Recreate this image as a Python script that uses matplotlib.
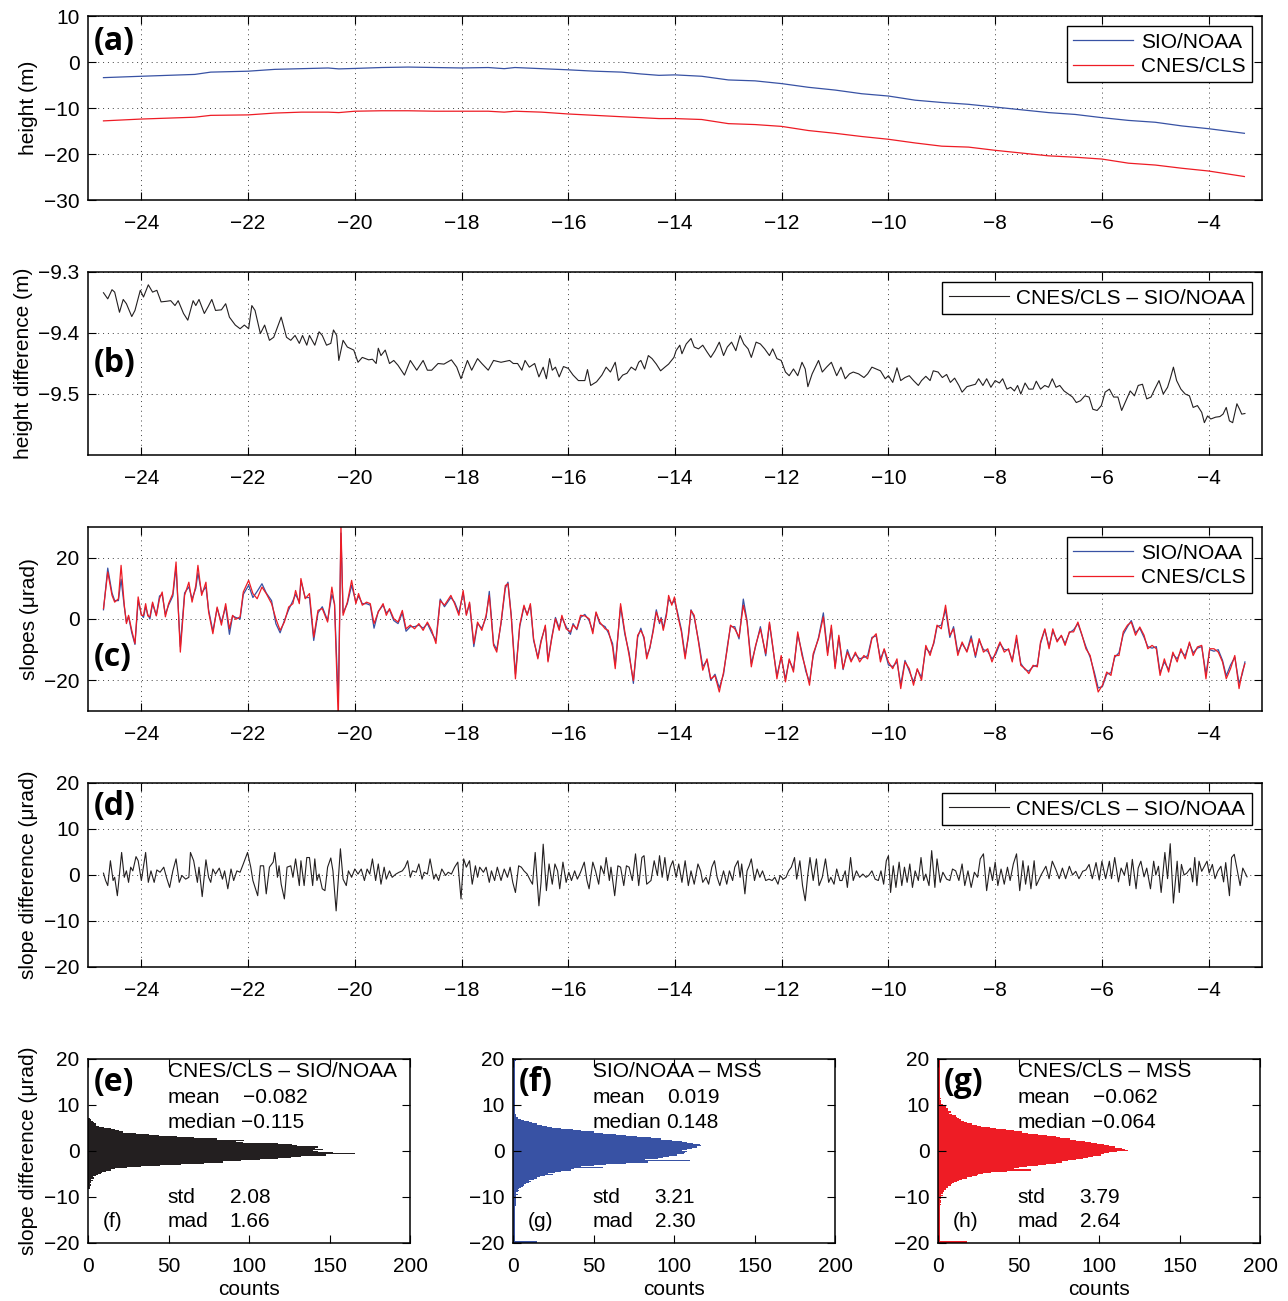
import numpy as np
import matplotlib.pyplot as plt

plt.rcParams['font.family'] = ['Liberation Sans', 'DejaVu Sans']

#~~~~~~~~~~~~~~~~~~~~~~~~~~~~~~~~ Data ~~~~~~~~~~~~~~~~~~~~~~~~~~~~~~~~#

# (a) along-track heights (m)
a_x = [-24.71, -24.0, -23.5, -23.0, -22.7, -22.0, -21.5, -21.0, -20.5, -20.3,
       -20.0, -19.5, -19.0, -18.5, -18.0, -17.5, -17.2, -17.0, -16.5, -16.0,
       -15.5, -15.0, -14.64, -14.3, -14.0, -13.5, -13.0, -12.5, -12.0, -11.5,
       -11.0, -10.5, -10.0, -9.5, -9.0, -8.5, -8.0, -7.5, -7.0, -6.5,
       -6.0, -5.5, -5.0, -4.5, -4.0, -3.33]
a_sio = [-3.4, -3.1, -2.9, -2.7, -2.2, -2.0, -1.6, -1.45, -1.3, -1.5,
         -1.4, -1.2, -1.1, -1.2, -1.3, -1.2, -1.45, -1.2, -1.45, -1.7,
         -2.0, -2.2, -2.6, -2.9, -2.8, -3.1, -3.9, -4.1, -4.7, -5.5,
         -6.1, -6.9, -7.4, -8.3, -8.8, -9.2, -9.8, -10.4, -11.0, -11.4,
         -12.1, -12.7, -13.1, -13.9, -14.5, -15.5]
a_cnes = [-12.8, -12.4, -12.2, -12.0, -11.6, -11.5, -11.1, -10.9, -10.9, -11.0,
          -10.7, -10.6, -10.6, -10.7, -10.7, -10.7, -10.9, -10.7, -10.9, -11.3,
          -11.6, -11.9, -12.1, -12.3, -12.3, -12.5, -13.4, -13.6, -14.0, -14.9,
          -15.5, -16.2, -16.8, -17.6, -18.3, -18.5, -19.2, -19.8, -20.4, -20.7,
          -21.1, -22.0, -22.4, -23.1, -23.7, -24.9]

# (b) height difference CNES/CLS - SIO/NOAA (m): (x, dh)
b_pts = [
    (-24.71, -9.334), (-24.63, -9.344), (-24.55, -9.329), (-24.50, -9.333), (-24.41, -9.366),
    (-24.34, -9.345), (-24.28, -9.352), (-24.18, -9.373), (-24.12, -9.363), (-24.02, -9.330),
    (-23.96, -9.341), (-23.87, -9.321), (-23.79, -9.333), (-23.71, -9.330), (-23.63, -9.349),
    (-23.53, -9.348), (-23.45, -9.347), (-23.37, -9.355), (-23.31, -9.347), (-23.21, -9.368),
    (-23.13, -9.379), (-23.03, -9.347), (-22.98, -9.355), (-22.92, -9.345), (-22.82, -9.368),
    (-22.75, -9.357), (-22.68, -9.345), (-22.61, -9.363), (-22.50, -9.362), (-22.42, -9.352),
    (-22.35, -9.374), (-22.24, -9.387), (-22.15, -9.393), (-22.07, -9.387), (-21.99, -9.393),
    (-21.93, -9.355), (-21.87, -9.363), (-21.77, -9.401), (-21.69, -9.387), (-21.60, -9.412),
    (-21.52, -9.407), (-21.38, -9.374), (-21.28, -9.407), (-21.20, -9.412), (-21.12, -9.404),
    (-21.04, -9.417), (-20.98, -9.404), (-20.90, -9.420), (-20.85, -9.404), (-20.75, -9.420),
    (-20.67, -9.398), (-20.61, -9.404), (-20.53, -9.420), (-20.45, -9.417), (-20.40, -9.395),
    (-20.34, -9.404), (-20.30, -9.445), (-20.22, -9.412), (-20.14, -9.423), (-20.02, -9.428),
    (-19.94, -9.448), (-19.86, -9.440), (-19.74, -9.444), (-19.67, -9.443), (-19.60, -9.450),
    (-19.56, -9.425), (-19.51, -9.437), (-19.43, -9.428), (-19.35, -9.450), (-19.27, -9.445),
    (-19.19, -9.453), (-19.07, -9.469), (-18.96, -9.445), (-18.84, -9.461), (-18.72, -9.445),
    (-18.64, -9.461), (-18.56, -9.461), (-18.44, -9.450), (-18.33, -9.451), (-18.19, -9.444),
    (-18.09, -9.456), (-18.01, -9.475), (-17.89, -9.445), (-17.81, -9.461), (-17.70, -9.442),
    (-17.62, -9.450), (-17.50, -9.461), (-17.40, -9.445), (-17.26, -9.448), (-17.10, -9.445),
    (-17.03, -9.450), (-16.95, -9.450), (-16.87, -9.461), (-16.81, -9.445), (-16.73, -9.456),
    (-16.63, -9.450), (-16.55, -9.472), (-16.47, -9.456), (-16.41, -9.475), (-16.35, -9.442),
    (-16.30, -9.461), (-16.24, -9.456), (-16.17, -9.472), (-16.09, -9.455), (-16.00, -9.458),
    (-15.91, -9.469), (-15.81, -9.478), (-15.69, -9.478), (-15.64, -9.460), (-15.58, -9.486),
    (-15.47, -9.480), (-15.37, -9.469), (-15.29, -9.456), (-15.21, -9.464), (-15.12, -9.448),
    (-15.06, -9.478), (-14.98, -9.469), (-14.90, -9.466), (-14.82, -9.456), (-14.74, -9.461),
    (-14.68, -9.448), (-14.64, -9.445), (-14.57, -9.459), (-14.50, -9.437), (-14.43, -9.442),
    (-14.35, -9.451), (-14.27, -9.462), (-14.19, -9.456), (-14.12, -9.451), (-14.02, -9.440),
    (-13.98, -9.429), (-13.91, -9.420), (-13.87, -9.434), (-13.79, -9.418), (-13.70, -9.409),
    (-13.64, -9.423), (-13.56, -9.426), (-13.48, -9.420), (-13.40, -9.431), (-13.33, -9.440),
    (-13.25, -9.429), (-13.17, -9.415), (-13.09, -9.437), (-13.02, -9.423), (-12.94, -9.415),
    (-12.86, -9.429), (-12.78, -9.404), (-12.71, -9.418), (-12.63, -9.426), (-12.57, -9.440),
    (-12.48, -9.415), (-12.40, -9.418), (-12.32, -9.426), (-12.23, -9.437), (-12.17, -9.426),
    (-12.09, -9.442), (-12.01, -9.445), (-11.93, -9.464), (-11.86, -9.470), (-11.78, -9.459),
    (-11.70, -9.470), (-11.62, -9.448), (-11.56, -9.459), (-11.51, -9.488), (-11.43, -9.467),
    (-11.31, -9.445), (-11.24, -9.464), (-11.16, -9.456), (-11.07, -9.448), (-10.97, -9.470),
    (-10.89, -9.456), (-10.81, -9.475), (-10.73, -9.467), (-10.66, -9.464), (-10.56, -9.467),
    (-10.46, -9.473), (-10.39, -9.467), (-10.31, -9.456), (-10.23, -9.459), (-10.15, -9.462),
    (-10.06, -9.475), (-10.00, -9.470), (-9.92, -9.481), (-9.84, -9.457), (-9.77, -9.478),
    (-9.69, -9.473), (-9.61, -9.470), (-9.53, -9.478), (-9.44, -9.486), (-9.38, -9.478),
    (-9.30, -9.471), (-9.22, -9.478), (-9.16, -9.462), (-9.07, -9.464), (-8.99, -9.473),
    (-8.91, -9.468), (-8.84, -9.481), (-8.76, -9.474), (-8.68, -9.486), (-8.62, -9.497),
    (-8.53, -9.488), (-8.45, -9.486), (-8.37, -9.484), (-8.31, -9.475), (-8.23, -9.486),
    (-8.16, -9.475), (-8.08, -9.489), (-8.00, -9.478), (-7.92, -9.482), (-7.86, -9.475),
    (-7.78, -9.492), (-7.71, -9.489), (-7.64, -9.495), (-7.58, -9.486), (-7.52, -9.500),
    (-7.44, -9.482), (-7.37, -9.492), (-7.29, -9.492), (-7.23, -9.479), (-7.15, -9.492),
    (-7.07, -9.486), (-7.00, -9.489), (-6.93, -9.475), (-6.86, -9.489), (-6.79, -9.486),
    (-6.71, -9.495), (-6.63, -9.500), (-6.55, -9.505), (-6.48, -9.514), (-6.40, -9.511),
    (-6.32, -9.503), (-6.24, -9.505), (-6.17, -9.525), (-6.09, -9.527), (-6.01, -9.519),
    (-5.94, -9.497), (-5.86, -9.492), (-5.78, -9.505), (-5.70, -9.505), (-5.63, -9.527),
    (-5.55, -9.511), (-5.47, -9.495), (-5.39, -9.503), (-5.32, -9.486), (-5.24, -9.484),
    (-5.16, -9.508), (-5.08, -9.505), (-5.01, -9.492), (-4.93, -9.478), (-4.85, -9.500),
    (-4.77, -9.489), (-4.72, -9.475), (-4.66, -9.456), (-4.60, -9.478), (-4.52, -9.492),
    (-4.44, -9.500), (-4.36, -9.503), (-4.29, -9.522), (-4.21, -9.519), (-4.13, -9.530),
    (-4.08, -9.547), (-4.02, -9.536), (-3.96, -9.541), (-3.87, -9.538), (-3.79, -9.537),
    (-3.73, -9.533), (-3.67, -9.522), (-3.61, -9.544), (-3.55, -9.547), (-3.47, -9.516),
    (-3.42, -9.525), (-3.38, -9.533), (-3.32, -9.532),
]

# (c) along-track slopes (urad): (x, SIO/NOAA, CNES/CLS)
c_pts = [
    (-24.71, 3.0, 3.4), (-24.63, 16.6, 15.3), (-24.55, 8.5, 7.7), (-24.50, 6.0, 5.5), (-24.43, 6.0, 6.6),
    (-24.38, 13.0, 17.5), (-24.32, 4.0, 4.5), (-24.28, -1.0, -1.5), (-24.24, 0.8, 1.2), (-24.18, -4.5, -3.7),
    (-24.12, -8.3, -8.0), (-24.06, 6.0, 7.2), (-24.00, 1.5, 1.2), (-23.96, 0.5, 1.2), (-23.92, 4.0, 5.0),
    (-23.88, 1.5, 1.0), (-23.84, 0.0, 0.7), (-23.79, 5.0, 5.5), (-23.72, 1.2, 1.0), (-23.66, 7.5, 6.6),
    (-23.61, 8.0, 8.8), (-23.55, 1.5, 0.7), (-23.49, 4.5, 5.0), (-23.41, 7.5, 8.3), (-23.35, 17.0, 18.6),
    (-23.27, -9.0, -10.8), (-23.19, 8.5, 7.7), (-23.11, 10.5, 12.0), (-23.05, 6.5, 5.5), (-22.98, 10.0, 10.9),
    (-22.94, 15.0, 17.5), (-22.87, 8.5, 7.7), (-22.79, 10.5, 12.0), (-22.74, 3.0, 2.3), (-22.66, -4.0, -4.8),
    (-22.58, 3.5, 3.9), (-22.50, -1.0, -2.0), (-22.42, 4.0, 5.0), (-22.35, -5.0, -3.2), (-22.29, 1.0, 1.2),
    (-22.23, 0.5, -0.1), (-22.15, 0.0, 0.7), (-22.09, 8.0, 8.8), (-21.99, 11.0, 12.6), (-21.91, 7.0, 8.3),
    (-21.83, 9.0, 6.6), (-21.74, 11.5, 10.4), (-21.66, 8.5, 8.3), (-21.56, 6.0, 5.0), (-21.48, -1.5, 0.1),
    (-21.40, -4.5, -3.7), (-21.32, -0.5, -1.0), (-21.24, 3.0, 3.9), (-21.16, 6.0, 5.0), (-21.11, 8.0, 9.3),
    (-21.04, 5.5, 5.0), (-21.01, 12.5, 13.2), (-20.93, 7.0, 6.6), (-20.85, 7.0, 8.3), (-20.77, -7.0, -5.9),
    (-20.69, 2.0, 2.8), (-20.61, 4.0, 3.4), (-20.51, -0.5, -1.0), (-20.43, 8.0, 10.4), (-20.38, 5.0, 4.5),
    (-20.31, -27.0, -33.0), (-20.26, 28.0, 31.0), (-20.22, 2.0, 1.2), (-20.14, 5.0, 5.5), (-20.06, 11.0, 12.6),
    (-19.98, 5.5, 5.0), (-19.93, 7.5, 8.3), (-19.86, 5.0, 4.5), (-19.78, 5.0, 5.5), (-19.71, 4.5, 5.0),
    (-19.64, -3.0, -1.5), (-19.56, 2.5, 2.3), (-19.47, 4.5, 5.0), (-19.41, 2.0, 1.2), (-19.35, 3.0, 3.4),
    (-19.27, -0.5, 0.1), (-19.19, -1.5, -1.0), (-19.11, 2.0, 2.8), (-19.04, -4.0, -3.2), (-18.96, -2.5, -2.0),
    (-18.88, -2.5, -3.2), (-18.80, -2.0, -1.5), (-18.72, -3.0, -3.7), (-18.64, -1.5, -1.0), (-18.56, -4.5, -3.7),
    (-18.48, -7.0, -8.0), (-18.40, 6.5, 6.0), (-18.32, 4.0, 4.5), (-18.20, 7.0, 7.7), (-18.13, 5.5, 5.0),
    (-18.05, 2.0, 1.2), (-17.97, 8.5, 9.3), (-17.91, 1.5, 1.2), (-17.85, 5.0, 5.5), (-17.77, -9.0, -8.0),
    (-17.70, -1.5, -1.0), (-17.62, -3.0, -3.7), (-17.54, 0.5, 1.2), (-17.48, 9.0, 7.7), (-17.40, -8.0, -8.6),
    (-17.34, -10.0, -10.8), (-17.26, -1.5, -1.0), (-17.18, 10.0, 10.9), (-17.13, 12.0, 11.5), (-17.07, 1.5, 1.0),
    (-16.99, -18.0, -19.5), (-16.91, -2.5, -2.0), (-16.83, 4.0, 4.5), (-16.77, 1.5, 1.2), (-16.71, 4.5, 5.0),
    (-16.65, -7.0, -6.4), (-16.57, -12.5, -13.0), (-16.51, -7.0, -7.5), (-16.43, -2.5, -2.0), (-16.38, -13.5, -14.0),
    (-16.31, -6.0, -6.4), (-16.24, 0.5, 0.1), (-16.17, -3.0, -3.7), (-16.12, 0.5, 1.2), (-16.04, -2.5, -3.2),
    (-15.96, -5.0, -4.2), (-15.91, -1.5, -2.0), (-15.84, -3.5, -3.2), (-15.77, 0.5, 1.2), (-15.69, 1.5, 1.0),
    (-15.61, -0.5, 0.1), (-15.54, -4.0, -4.8), (-15.48, 2.0, 2.3), (-15.41, -1.5, -1.0), (-15.31, -2.5, -3.2),
    (-15.25, -4.5, -3.7), (-15.17, -8.0, -9.1), (-15.12, -15.0, -16.2), (-15.02, 4.0, 5.0), (-14.94, -5.0, -4.2),
    (-14.86, -11.0, -11.9), (-14.78, -21.0, -20.1), (-14.70, -6.0, -5.3), (-14.64, -3.0, -3.7), (-14.58, -6.5, -5.9),
    (-14.53, -12.0, -13.0), (-14.47, -9.5, -9.1), (-14.41, -3.5, -4.2), (-14.35, 3.0, 2.3), (-14.29, -1.5, -1.0),
    (-14.26, 0.5, 0.1), (-14.22, -3.0, -3.7), (-14.16, 2.0, 1.2), (-14.12, 6.5, 7.7), (-14.06, 5.0, 4.5),
    (-14.01, 6.0, 7.2), (-13.95, 2.0, 1.2), (-13.88, -3.5, -4.2), (-13.81, -12.0, -13.0), (-13.75, -6.0, -5.3),
    (-13.70, 3.0, 2.8), (-13.64, 0.5, 1.2), (-13.56, -7.0, -7.5), (-13.48, -15.5, -16.7), (-13.40, -13.5, -13.0),
    (-13.33, -20.0, -19.5), (-13.25, -18.0, -18.5), (-13.17, -22.5, -23.8), (-13.09, -18.0, -17.3), (-13.02, -9.0, -9.7),
    (-12.96, -2.5, -2.0), (-12.88, -2.5, -3.2), (-12.80, -6.5, -5.9), (-12.72, 6.5, 4.5), (-12.65, -0.5, -1.0),
    (-12.57, -14.5, -15.6), (-12.49, -9.0, -8.6), (-12.40, -2.5, -3.2), (-12.30, -12.0, -11.3), (-12.23, -1.5, -1.0),
    (-12.17, -9.0, -8.6), (-12.09, -18.5, -19.5), (-12.01, -12.5, -11.9), (-11.93, -19.5, -20.5), (-11.86, -13.5, -13.0),
    (-11.78, -16.5, -17.3), (-11.70, -5.0, -4.2), (-11.62, -11.0, -11.9), (-11.55, -17.0, -16.2), (-11.48, -20.5, -21.6),
    (-11.41, -12.0, -11.3), (-11.31, -6.0, -6.4), (-11.22, 2.0, 0.7), (-11.14, -11.0, -11.9), (-11.07, -3.0, -2.0),
    (-11.00, -15.5, -16.2), (-10.93, -6.0, -5.3), (-10.85, -16.5, -16.2), (-10.77, -10.0, -10.8), (-10.70, -13.5, -14.0),
    (-10.62, -11.5, -10.8), (-10.54, -13.0, -14.0), (-10.46, -12.5, -11.9), (-10.39, -12.0, -13.0), (-10.31, -6.0, -6.4),
    (-10.23, -5.5, -4.8), (-10.15, -13.0, -14.0), (-10.08, -10.0, -9.7), (-10.00, -15.0, -14.0), (-9.92, -15.5, -16.2),
    (-9.84, -14.0, -13.0), (-9.77, -21.5, -22.7), (-9.69, -13.5, -14.0), (-9.61, -17.0, -16.2), (-9.53, -20.5, -21.6),
    (-9.46, -16.5, -16.2), (-9.38, -19.0, -20.0), (-9.30, -9.5, -8.6), (-9.22, -11.0, -11.9), (-9.15, -8.0, -7.5),
    (-9.09, -2.5, -2.0), (-9.01, -2.0, -3.2), (-8.93, 3.0, 4.5), (-8.85, -6.0, -5.3), (-8.78, -2.5, -3.2),
    (-8.70, -11.0, -11.9), (-8.62, -8.0, -7.5), (-8.53, -10.5, -10.8), (-8.45, -5.5, -6.4), (-8.37, -12.5, -11.9),
    (-8.30, -7.0, -6.4), (-8.22, -10.0, -10.8), (-8.14, -10.5, -9.7), (-8.06, -13.0, -14.0), (-7.99, -11.5, -10.8),
    (-7.91, -8.0, -7.5), (-7.83, -10.0, -10.8), (-7.75, -10.0, -9.7), (-7.68, -13.5, -14.0), (-7.60, -6.5, -5.3),
    (-7.52, -14.5, -15.1), (-7.44, -16.5, -16.2), (-7.37, -17.0, -17.8), (-7.29, -15.5, -15.1), (-7.21, -15.0, -15.6),
    (-7.15, -8.0, -7.5), (-7.07, -3.5, -3.2), (-6.99, -9.0, -9.7), (-6.92, -4.0, -3.2), (-6.84, -7.0, -7.5),
    (-6.76, -5.5, -5.3), (-6.69, -8.0, -8.6), (-6.61, -4.5, -4.2), (-6.53, -3.5, -4.2), (-6.45, -1.5, -1.0),
    (-6.38, -5.0, -4.8), (-6.30, -9.0, -9.7), (-6.22, -12.5, -11.9), (-6.14, -17.5, -18.4), (-6.07, -22.5, -23.8),
    (-5.99, -22.0, -21.6), (-5.91, -18.0, -17.3), (-5.83, -17.5, -18.4), (-5.76, -12.5, -11.9), (-5.68, -11.0, -11.9),
    (-5.60, -5.0, -4.2), (-5.52, -2.5, -2.0), (-5.45, -0.5, -1.0), (-5.37, -4.5, -5.3), (-5.29, -3.0, -2.6),
    (-5.21, -6.0, -5.3), (-5.14, -9.0, -9.7), (-5.06, -9.5, -8.6), (-4.98, -9.0, -9.7), (-4.91, -17.5, -18.4),
    (-4.83, -14.0, -13.0), (-4.75, -16.5, -17.3), (-4.67, -11.5, -10.8), (-4.59, -13.0, -14.0), (-4.52, -10.5, -9.7),
    (-4.44, -12.0, -13.0), (-4.36, -8.0, -7.5), (-4.29, -11.0, -11.9), (-4.21, -9.5, -9.1), (-4.13, -9.0, -8.6),
    (-4.05, -18.0, -19.5), (-3.98, -10.0, -9.7), (-3.90, -10.5, -9.7), (-3.82, -10.0, -10.8), (-3.74, -13.5, -14.0),
    (-3.67, -18.5, -19.5), (-3.59, -15.0, -16.2), (-3.51, -12.5, -11.9), (-3.43, -21.0, -22.7), (-3.37, -18.0, -17.3),
    (-3.32, -14.0, -14.6),
]

# (d) slope difference CNES/CLS - SIO/NOAA (urad): (x, ds)
d_pts = [
    (-24.71, 0.4), (-24.67, -1.2), (-24.63, -2.3), (-24.58, 3.1), (-24.53, -1.2), (-24.50, -0.5), (-24.45, -4.5),
    (-24.37, 4.9), (-24.32, -0.5), (-24.28, 0.9), (-24.24, -1.6), (-24.20, 1.7), (-24.16, 0.9), (-24.10, 4.0),
    (-24.06, 3.1), (-24.00, -1.2), (-23.92, 4.9), (-23.87, -1.6), (-23.82, 0.9), (-23.76, -1.6), (-23.71, 1.1),
    (-23.65, 0.6), (-23.58, 1.7), (-23.53, -0.5), (-23.47, -2.7), (-23.41, 0.9), (-23.35, 3.5), (-23.29, -1.6),
    (-23.24, -0.1), (-23.17, -0.9), (-23.11, -0.5), (-23.08, 4.9), (-23.02, 3.1), (-22.95, -1.6), (-22.92, 1.7),
    (-22.86, -4.7), (-22.79, 3.3), (-22.74, -0.5), (-22.70, -1.6), (-22.66, 1.3), (-22.61, 0.2), (-22.54, 1.5),
    (-22.48, -0.9), (-22.44, 0.9), (-22.38, -3.0), (-22.32, 1.3), (-22.27, -1.2), (-22.21, 0.9), (-22.15, 0.6),
    (-22.09, 2.4), (-22.01, 4.9), (-21.95, 1.7), (-21.91, -1.2), (-21.87, -2.7), (-21.82, -4.5), (-21.77, 2.0),
    (-21.71, 2.0), (-21.66, -4.1), (-21.60, 1.7), (-21.53, 2.8), (-21.50, 4.9), (-21.45, -0.5), (-21.42, 2.0),
    (-21.38, -2.0), (-21.32, -5.2), (-21.27, 1.7), (-21.20, 2.0), (-21.16, -0.5), (-21.11, 3.5), (-21.04, -2.3),
    (-21.01, 3.1), (-20.95, -2.3), (-20.90, 3.8), (-20.85, 3.8), (-20.79, -2.3), (-20.75, 3.5), (-20.71, -1.2),
    (-20.67, 0.2), (-20.61, -3.0), (-20.56, -3.4), (-20.51, 1.7), (-20.45, 3.7), (-20.41, 0.9), (-20.35, -7.8),
    (-20.27, 5.7), (-20.22, -0.9), (-20.16, -2.3), (-20.12, 0.9), (-20.06, -0.5), (-20.00, 1.3), (-19.94, 0.2),
    (-19.88, 1.3), (-19.82, -1.2), (-19.77, 1.3), (-19.72, 0.2), (-19.67, 3.5), (-19.61, -1.2), (-19.56, 2.4),
    (-19.51, -2.0), (-19.45, 1.7), (-19.41, -0.9), (-19.35, 0.9), (-19.30, -0.5), (-19.23, 0.2), (-19.17, 0.6),
    (-19.11, 0.9), (-19.06, 1.7), (-19.01, 3.1), (-18.96, -0.5), (-18.92, 0.9), (-18.85, 0.6), (-18.80, 2.4),
    (-18.74, -0.9), (-18.70, 0.6), (-18.64, 0.2), (-18.59, 3.5), (-18.52, -0.9), (-18.48, 0.2), (-18.43, -1.2),
    (-18.37, 1.3), (-18.30, -0.1), (-18.25, 0.6), (-18.19, 0.2), (-18.13, 1.7), (-18.07, 2.8), (-18.01, -5.2),
    (-17.96, 3.5), (-17.91, 1.7), (-17.85, 3.1), (-17.80, -2.0), (-17.74, 2.0), (-17.70, -0.5), (-17.66, 1.7),
    (-17.59, 0.6), (-17.54, 1.7), (-17.48, -1.6), (-17.44, 0.9), (-17.38, -1.2), (-17.33, 1.7), (-17.26, -1.2),
    (-17.20, 1.3), (-17.14, -0.5), (-17.09, 1.7), (-17.04, -1.6), (-16.99, -3.8), (-16.93, 2.0), (-16.88, 1.7),
    (-16.83, 0.9), (-16.77, 0.2), (-16.71, -1.2), (-16.67, -2.0), (-16.62, 4.9), (-16.55, -6.7), (-16.51, -1.6),
    (-16.47, 6.7), (-16.41, -3.4), (-16.36, 2.4), (-16.30, -2.0), (-16.25, 2.4), (-16.20, 0.9), (-16.16, -3.0),
    (-16.10, 2.8), (-16.04, -1.6), (-15.99, 0.6), (-15.94, -1.2), (-15.88, 0.9), (-15.83, -0.9), (-15.77, 0.6),
    (-15.70, 2.8), (-15.65, -1.2), (-15.61, -3.0), (-15.54, 2.8), (-15.49, 0.9), (-15.43, -2.0), (-15.39, 2.0),
    (-15.33, 0.2), (-15.29, 3.8), (-15.23, -1.2), (-15.20, 1.7), (-15.13, -4.5), (-15.07, 2.0), (-15.02, 1.7),
    (-14.96, -2.3), (-14.91, 2.0), (-14.86, 1.7), (-14.80, -1.2), (-14.74, 4.6), (-14.68, -2.3), (-14.62, 3.8),
    (-14.58, 4.2), (-14.53, -2.0), (-14.45, -1.2), (-14.39, 3.1), (-14.33, -0.1), (-14.29, 4.2), (-14.24, -0.5),
    (-14.19, 3.8), (-14.14, -1.2), (-14.09, 1.7), (-14.04, 3.1), (-13.98, -0.5), (-13.93, 2.4), (-13.87, -1.6),
    (-13.81, 3.1), (-13.75, -2.3), (-13.70, 0.9), (-13.64, -2.0), (-13.57, 2.4), (-13.52, 0.9), (-13.48, -1.6),
    (-13.42, -0.5), (-13.37, -2.0), (-13.31, 1.7), (-13.26, 3.1), (-13.21, -0.5), (-13.16, -2.3), (-13.09, 0.9),
    (-13.03, -2.0), (-12.98, 0.9), (-12.92, -1.2), (-12.88, 1.7), (-12.82, 3.1), (-12.78, -0.5), (-12.75, 2.4),
    (-12.69, -4.1), (-12.65, 0.9), (-12.61, 2.0), (-12.57, 3.5), (-12.51, -1.2), (-12.46, 1.3), (-12.41, -0.5),
    (-12.36, 0.9), (-12.30, -1.2), (-12.24, -0.9), (-12.18, -1.2), (-12.13, -0.5), (-12.07, -2.0), (-12.03, -0.1),
    (-11.97, -0.9), (-11.92, -0.5), (-11.87, 0.9), (-11.82, 1.7), (-11.76, 3.8), (-11.72, -0.9), (-11.66, 3.1),
    (-11.61, -2.3), (-11.56, -5.6), (-11.51, 0.2), (-11.47, 3.8), (-11.41, -1.2), (-11.35, 3.5), (-11.30, -2.3),
    (-11.24, -0.5), (-11.18, 3.5), (-11.12, -1.6), (-11.08, -0.5), (-11.02, -2.0), (-10.97, 1.3), (-10.91, -1.2),
    (-10.87, -1.2), (-10.81, 0.9), (-10.77, -2.7), (-10.71, 3.8), (-10.66, -1.2), (-10.60, 0.9), (-10.54, -0.5),
    (-10.48, 0.2), (-10.42, -0.5), (-10.37, -0.1), (-10.31, 0.9), (-10.25, -0.9), (-10.19, -1.2), (-10.14, 0.9),
    (-10.09, -2.0), (-10.04, 3.1), (-10.00, 4.2), (-9.96, -3.8), (-9.91, 2.0), (-9.86, -2.7), (-9.80, 2.8),
    (-9.75, -2.3), (-9.70, 1.7), (-9.65, -1.6), (-9.60, 2.4), (-9.55, -2.7), (-9.50, 0.9), (-9.44, -1.2),
    (-9.39, 3.8), (-9.34, -1.2), (-9.30, 0.2), (-9.24, -2.3), (-9.19, 5.3), (-9.13, -2.7), (-9.09, 3.5),
    (-9.03, -1.6), (-8.98, 0.6), (-8.91, -0.9), (-8.85, -1.2), (-8.80, 1.3), (-8.74, 0.9), (-8.68, -1.2),
    (-8.62, 2.4), (-8.57, -2.3), (-8.51, 0.9), (-8.45, -2.7), (-8.39, 0.6), (-8.33, -0.5), (-8.28, 3.5),
    (-8.22, 4.6), (-8.16, -3.4), (-8.10, 1.7), (-8.05, -1.2), (-8.00, 2.8), (-7.95, -2.3), (-7.89, 1.3),
    (-7.83, -2.0), (-7.77, 1.7), (-7.72, -1.2), (-7.66, 2.4), (-7.60, 4.6), (-7.54, -3.4), (-7.48, 3.1),
    (-7.43, -2.0), (-7.38, 2.0), (-7.33, -3.0), (-7.27, 3.1), (-7.23, -2.3), (-7.14, 0.0), (-7.05, 1.9),
    (-6.99, -0.8), (-6.93, 3.0), (-6.86, 1.1), (-6.80, -0.8), (-6.74, 1.5), (-6.68, -0.8), (-6.61, 1.9),
    (-6.55, 0.0), (-6.49, 0.8), (-6.43, -0.8), (-6.36, 0.8), (-6.30, 1.1), (-6.24, 2.3), (-6.18, -0.8),
    (-6.11, 2.7), (-6.05, -1.1), (-6.00, 3.0), (-5.93, -0.8), (-5.86, 3.0), (-5.82, -0.8), (-5.76, 3.8),
    (-5.69, -1.5), (-5.64, 1.5), (-5.58, 0.0), (-5.53, 2.7), (-5.48, -2.3), (-5.43, 3.4), (-5.36, -3.0),
    (-5.32, 1.5), (-5.27, 3.0), (-5.21, -0.4), (-5.16, 1.5), (-5.09, -3.0), (-5.03, 3.0), (-4.99, 0.0),
    (-4.94, 1.9), (-4.89, -3.8), (-4.82, 4.9), (-4.77, -0.8), (-4.72, 6.8), (-4.66, -6.1), (-4.59, 3.0),
    (-4.55, -3.8), (-4.51, 2.3), (-4.46, 0.0), (-4.41, 0.4), (-4.34, 1.5), (-4.30, -1.5), (-4.26, 3.8),
    (-4.22, -2.3), (-4.18, 3.0), (-4.13, 0.8), (-4.08, 1.9), (-4.03, 3.0), (-3.99, 0.4), (-3.93, 2.3),
    (-3.88, -0.8), (-3.83, 0.8), (-3.77, 1.9), (-3.72, -1.5), (-3.68, 2.7), (-3.61, -4.5), (-3.57, 3.8),
    (-3.52, 4.5), (-3.46, 0.8), (-3.41, -2.3), (-3.36, 1.5), (-3.28, -0.4),
]

# (e)-(g) histogram counts, bins of 0.25 urad starting at the given lower edge
e_lo = -8.25
e_counts = [1, 1, 1, 2, 1, 2, 2, 3, 2, 4,
            3, 5, 6, 8, 9, 11, 14, 17, 24, 33,
            45, 58, 72, 84, 95, 107, 118, 126, 132, 148,
            166, 152, 143, 140, 146, 141, 143, 130, 127, 118,
            96, 92, 97, 80, 66, 55, 44, 38, 30, 22,
            19, 17, 14, 10, 7, 5, 5, 4, 3, 2,
            2, 1]

f_lo = -10.0
f_counts = [2, 2, 3, 2, 3, 4, 3, 4, 5, 6,
            7, 8, 10, 11, 10, 13, 15, 17, 20, 25,
            22, 26, 30, 36, 38, 56, 42, 50, 58, 70,
            84, 110, 82, 90, 93, 97, 102, 106, 107, 108,
            105, 108, 111, 114, 117, 116, 112, 108, 105, 99,
            92, 86, 77, 70, 64, 56, 50, 42, 37, 30,
            24, 21, 18, 15, 12, 10, 7, 5, 3, 3,
            2, 2]
f_tail_lo = [1, 1, 1, 1, 1, 1, 1, 1, 2, 2]            # 1-urad bins, -20 .. -10
f_tail_hi = [1, 1, 1, 1, 1, 1, 1, 1, 1, 1, 1, 1]      # 1-urad bins, 8 .. 20
f_ends = [15, 2]                                      # pile-up at -20 and +20

g_lo = -12.0
g_counts = [1, 2, 1, 2, 2, 1, 2, 2, 2, 3,
            2, 3, 4, 4, 5, 5, 6, 6, 8, 9,
            10, 12, 13, 15, 18, 21, 24, 25, 28, 33,
            43, 58, 47, 50, 55, 62, 67, 73, 77, 81,
            86, 90, 93, 96, 101, 103, 106, 111, 118, 116,
            114, 110, 106, 103, 99, 95, 91, 86, 82, 76,
            73, 68, 62, 56, 52, 47, 42, 36, 32, 27,
            24, 21, 18, 16, 14, 14, 13, 12, 11, 9,
            7, 8, 8, 6, 6, 5, 5, 5, 3, 2,
            2, 2, 1, 2, 1, 1]
g_tail_lo = [1, 1, 1, 1, 1, 1, 1, 1]                  # 1-urad bins, -20 .. -12
g_tail_hi = [1, 1, 1, 1, 1, 1, 1, 1]                  # 1-urad bins, 12 .. 20
g_ends = [18, 1]

# stats text
e_stats = ['CNES/CLS \u2013 SIO/NOAA', '\u22120.082', '\u22120.115', '2.08', '1.66', '(f)']
f_stats = ['SIO/NOAA \u2013 MSS', '0.019', '0.148', '3.21', '2.30', '(g)']
g_stats = ['CNES/CLS \u2013 MSS', '\u22120.062', '\u22120.064', '3.79', '2.64', '(h)']

blue = '#3852a4'
red = '#ee1c25'
black = '#231f20'

#~~~~~~~~~~~~~~~~~~~~~~~~~~~~~~~~~~~~~~~~ Figure ~~~~~~~~~~~~~~~~~~~~~~~~~~~~~~~~~~~~~~~~#
W, H = 1288, 1301
fig = plt.figure(figsize=(W / 100, H / 100), dpi=100)

def box(left, top, right, bottom):
    return [left / W, 1 - bottom / H, (right - left) / W, (bottom - top) / H]

ax_a = fig.add_axes(box(88, 16, 1262, 200))
ax_b = fig.add_axes(box(88, 272, 1262, 455))
ax_c = fig.add_axes(box(88, 527, 1262, 711))
ax_d = fig.add_axes(box(88, 783, 1262, 967))
ax_e = fig.add_axes(box(88, 1059, 410, 1243))
ax_f = fig.add_axes(box(513, 1059, 835, 1243))
ax_g = fig.add_axes(box(938, 1059, 1260, 1243))

fs = 15
grid_kw = dict(linestyle=(0, (1, 4)), color='0.25', linewidth=0.7)
leg_kw = dict(loc='upper right', fontsize=fs, fancybox=False, framealpha=1,
              edgecolor='k', handlelength=2.9, handletextpad=0.35,
              borderaxespad=0.5, borderpad=0.3, labelspacing=0.25)


def matlab_axes(ax):
    ax.tick_params(direction='in', top=True, right=True, length=6, width=0.8,
                   labelsize=fs)
    ax.tick_params(axis='x', pad=10)
    ax.tick_params(axis='y', pad=6)
    for s in ax.spines.values():
        s.set_linewidth(1.1)


def panel_label(ax, txt, x, y):
    ax.text(x, y, txt, transform=ax.transAxes, fontsize=23, fontweight='bold',
            family=['Open Sans', 'DejaVu Sans'], ha='left', va='center')


for ax in (ax_a, ax_b, ax_c, ax_d):
    ax.set_xlim(-25, -3)
    ax.set_xticks(np.arange(-24, -3, 2))
    matlab_axes(ax)
    ax.grid(True, **grid_kw)
    ax.set_axisbelow(True)

# (a)
ax_a.plot(a_x, a_sio, color=blue, lw=0.9, label='SIO/NOAA')
ax_a.plot(a_x, a_cnes, color=red, lw=0.9, label='CNES/CLS')
ax_a.set_ylim(-30, 10)
ax_a.set_yticks([-30, -20, -10, 0, 10])
ax_a.set_ylabel('height (m)', fontsize=fs)
ax_a.legend(**leg_kw)
panel_label(ax_a, '(a)', 0.005, 0.86)

# (b)
b_x, b_y = np.array(b_pts).T
ax_b.plot(b_x, b_y, color=black, lw=0.8, label='CNES/CLS \u2013 SIO/NOAA')
ax_b.set_ylim(-9.6, -9.3)
ax_b.set_yticks([-9.5, -9.4, -9.3])
ax_b.set_ylabel('height difference (m)', fontsize=fs)
ax_b.legend(**leg_kw)
panel_label(ax_b, '(b)', 0.005, 0.50)

# (c)
c_x, c_sio, c_cnes = np.array(c_pts).T
ax_c.plot(c_x, c_sio, color=blue, lw=0.9, label='SIO/NOAA')
ax_c.plot(c_x, c_cnes, color=red, lw=0.9, label='CNES/CLS')
ax_c.set_ylim(-30, 30)
ax_c.set_yticks([-20, 0, 20])
ax_c.set_ylabel('slopes (\u03bcrad)', fontsize=fs)
ax_c.legend(**leg_kw)
panel_label(ax_c, '(c)', 0.005, 0.29)

# (d)
d_x, d_y = np.array(d_pts).T
ax_d.plot(d_x, d_y, color=black, lw=0.8, label='CNES/CLS \u2013 SIO/NOAA')
ax_d.set_ylim(-20, 20)
ax_d.set_yticks([-20, -10, 0, 10, 20])
ax_d.set_ylabel('slope difference (\u03bcrad)', fontsize=fs)
ax_d.legend(**leg_kw)
panel_label(ax_d, '(d)', 0.005, 0.87)


# histograms
def hist_panel(ax, lo, counts, color, stats, label, tails=None, ends=None):
    centers = lo + 0.25 * (np.arange(len(counts)) + 0.5)
    ax.barh(centers, counts, height=0.25, color=color, linewidth=0)
    if tails is not None:
        t_lo, t_hi = tails
        y_lo = -20 + np.arange(len(t_lo)) + 0.5
        y_hi = 20 - len(t_hi) + np.arange(len(t_hi)) + 0.5
        ax.barh(y_lo, t_lo, height=1.0, color=color, linewidth=0)
        ax.barh(y_hi, t_hi, height=1.0, color=color, linewidth=0)
        ax.barh([-19.75, 19.75], ends, height=0.5, color=color, linewidth=0)
    ax.set_xlim(0, 200)
    ax.set_ylim(-20, 20)
    ax.set_xticks([0, 50, 100, 150, 200])
    ax.set_yticks([-20, -10, 0, 10, 20])
    matlab_axes(ax)
    ax.set_xlabel('counts', fontsize=fs, labelpad=3)
    tx = 0.248
    ax.text(tx, 0.93, stats[0], transform=ax.transAxes, fontsize=fs, va='center')
    ax.text(tx, 0.79, 'mean', transform=ax.transAxes, fontsize=fs, va='center')
    ax.text(tx, 0.655, 'median', transform=ax.transAxes, fontsize=fs, va='center')
    ax.text(tx, 0.245, 'std', transform=ax.transAxes, fontsize=fs, va='center')
    ax.text(tx, 0.115, 'mad', transform=ax.transAxes, fontsize=fs, va='center')
    ax.text(0.48, 0.79, stats[1], transform=ax.transAxes, fontsize=fs, va='center')
    ax.text(0.475, 0.655, stats[2], transform=ax.transAxes, fontsize=fs, va='center')
    ax.text(0.44, 0.245, stats[3], transform=ax.transAxes, fontsize=fs, va='center')
    ax.text(0.44, 0.115, stats[4], transform=ax.transAxes, fontsize=fs, va='center')
    ax.text(0.047, 0.115, stats[5], transform=ax.transAxes, fontsize=fs, va='center')
    panel_label(ax, label, 0.018, 0.87)


hist_panel(ax_e, e_lo, e_counts, black, e_stats, '(e)')
hist_panel(ax_f, f_lo, f_counts, blue, f_stats, '(f)', (f_tail_lo, f_tail_hi), f_ends)
hist_panel(ax_g, g_lo, g_counts, red, g_stats, '(g)', (g_tail_lo, g_tail_hi), g_ends)
ax_e.set_ylabel('slope difference (\u03bcrad)', fontsize=fs)

fig.savefig('out.png', dpi=100)
